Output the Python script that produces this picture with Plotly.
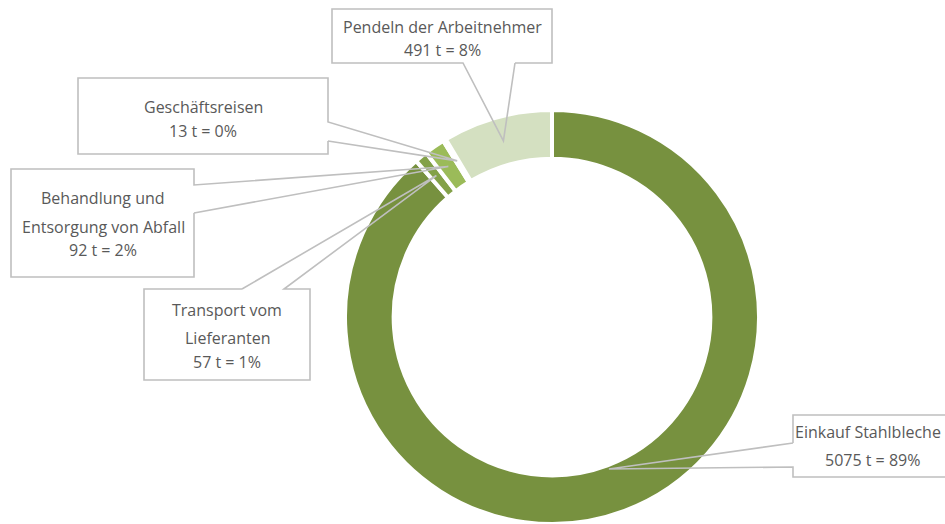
import math
import plotly.graph_objects as go

# ---- data ----
categories = ["Einkauf Stahlbleche", "Transport vom Lieferanten",
              "Behandlung und Entsorgung von Abfall", "Geschäftsreisen",
              "Pendeln der Arbeitnehmer"]
values = [5075, 57, 92, 13, 491]
percent_labels = ["89%", "1%", "2%", "0%", "8%"]
label_lines = [["Einkauf Stahlbleche"], ["Transport vom", "Lieferanten"],
               ["Behandlung und", "Entsorgung von Abfall"], ["Geschäftsreisen"],
               ["Pendeln der Arbeitnehmer"]]
colors = ["#77913F", "#83A148", "#9BBB59", "#B9CF8A", "#D4E0C1"]

# ---- layout constants (pixels) ----
W, H = 945, 524
CX, CY, R = 552, 317, 207
HOLE = 0.765
LINE = "#BFBFBF"
TXT = "#595959"
FONT = "Open Sans"
FS = 16

def px(x):
    return x / W

def py(y):
    return 1 - y / H

def clamp(v):
    return min(1.0, max(0.0, v))

fig = go.Figure(go.Pie(
    labels=categories, values=values, sort=False, direction="clockwise",
    rotation=0, hole=HOLE, textinfo="none", hoverinfo="label+value+percent",
    marker=dict(colors=colors, line=dict(color="white", width=4)),
    domain=dict(x=[clamp(px(CX - R)), clamp(px(CX + R))],
                y=[clamp(py(CY + R)), clamp(py(CY - R))]),
    showlegend=False,
))

# anchor points on ring from data
total = sum(values)
anchors = []
cum = 0
for i, v in enumerate(values):
    mid = (cum + v / 2) / total * 2 * math.pi
    cum += v
    r = (R * HOLE + 4) if i == 0 else (R * (1 + HOLE) / 2)
    anchors.append((CX + r * math.sin(mid), CY - r * math.cos(mid)))

# callout boxes: (x0, y0, x1, y1, side, g1, g2, text_cx, line_ys)
callouts = [
    (793, 415, 960, 477, "left", 443, 467, 872, [432, 460]),
    (144, 289, 310, 380, "top", 242, 284, 227, [310, 338, 362]),
    (11, 169, 194, 277, "right", 185, 213, 103, [198, 227, 250]),
    (78, 78, 328, 154, "right", 122, 141, 203, [107, 131]),
    (332, 9, 552, 63, "bottom", 463, 515, 442, [27, 50]),
]

shapes = []
annotations = []
for i, (x0, y0, x1, y1, side, g1, g2, tcx, ys) in enumerate(callouts):
    ax, ay = anchors[i]
    if side == "right":
        pts = [(x1, g2), (ax, ay), (x1, g1), (x1, y0), (x0, y0), (x0, y1), (x1, y1), (x1, g2)]
    elif side == "left":
        pts = [(x0, g1), (ax, ay), (x0, g2), (x0, y1), (x1, y1), (x1, y0), (x0, y0), (x0, g1)]
    elif side == "top":
        pts = [(g1, y0), (ax, ay), (g2, y0), (x1, y0), (x1, y1), (x0, y1), (x0, y0), (g1, y0)]
    else:  # bottom
        pts = [(g2, y1), (ax, ay), (g1, y1), (x0, y1), (x0, y0), (x1, y0), (x1, y1), (g2, y1)]
    path = "M " + " L ".join(f"{px(x):.5f},{py(y):.5f}" for x, y in pts)
    shapes.append(dict(type="path", xref="paper", yref="paper", path=path,
                       line=dict(color=LINE, width=1.6), fillcolor="rgba(0,0,0,0)",
                       layer="above"))
    lines = label_lines[i] + [f"{values[i]} t = {percent_labels[i]}"]
    for j, (text, y) in enumerate(zip(lines, ys)):
        if i == 0 and j == 0:
            # keep the long first line inside the page edge
            ann = dict(x=px(943), xanchor="right")
        else:
            ann = dict(x=px(tcx), xanchor="center")
        ann.update(y=py(y), xref="paper", yref="paper", text=text,
                   showarrow=False, yanchor="middle",
                   font=dict(family=FONT, size=FS, color=TXT))
        annotations.append(ann)

fig.update_layout(
    width=W, height=H, margin=dict(l=0, r=0, t=0, b=0),
    paper_bgcolor="white", plot_bgcolor="white",
    shapes=shapes, annotations=annotations,
)
fig.write_html("out.html", config={"displayModeBar": False})

# remove the default 8px body margin so the figure fills the window exactly
with open("out.html", "r", encoding="utf-8") as f:
    html = f.read()
html = html.replace("<body>", '<body style="margin:0;padding:0;overflow:hidden">', 1)
with open("out.html", "w", encoding="utf-8") as f:
    f.write(html)
